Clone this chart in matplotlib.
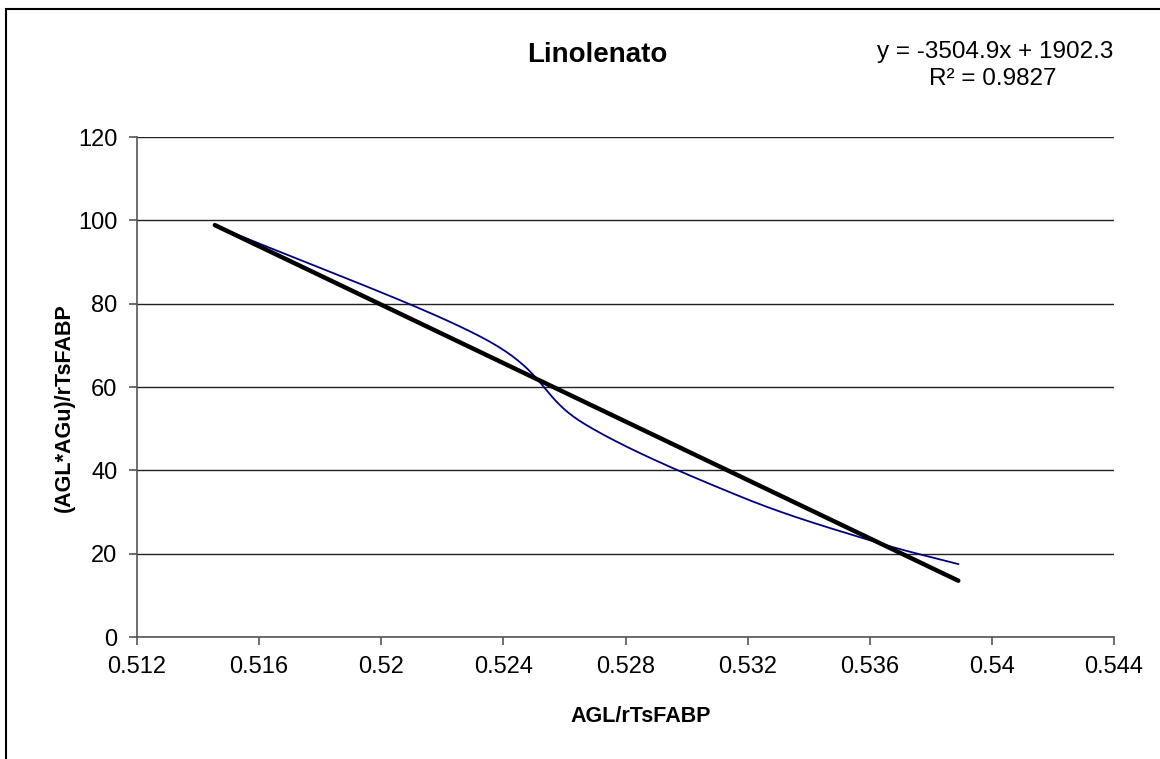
import numpy as np
import matplotlib
matplotlib.use("Agg")
from matplotlib import pyplot as plt
from matplotlib.patches import Rectangle

plt.rcParams['font.family'] = ['Liberation Sans', 'DejaVu Sans']

# data
x_data = [0.51455, 0.5234, 0.5266, 0.5318, 0.5361, 0.5389]
y_data = [98.8, 71.5, 51.4, 33.6, 23.0, 17.5]

slope, intercept = -3504.9, 1902.3
r2 = 0.9827
title = "Linolenato"
x_label = "AGL/rTsFABP"
y_label = "(AGL*AGu)/rTsFABP"
x_ticks = [0.512, 0.516, 0.52, 0.524, 0.528, 0.532, 0.536, 0.54, 0.544]
x_tick_labels = ["0.512", "0.516", "0.52", "0.524", "0.528", "0.532", "0.536", "0.54", "0.544"]
y_ticks = [0, 20, 40, 60, 80, 100, 120]


def smooth(xs, ys, n=40):
    # excel style smoothed line (catmull-rom through the points)
    xs = np.asarray(xs)
    ys = np.asarray(ys)
    px = np.concatenate([[2 * xs[0] - xs[1]], xs, [2 * xs[-1] - xs[-2]]])
    py = np.concatenate([[2 * ys[0] - ys[1]], ys, [2 * ys[-1] - ys[-2]]])
    out_x, out_y = [], []
    t = np.linspace(0, 1, n)
    for i in range(1, len(px) - 2):
        for p, out in ((px, out_x), (py, out_y)):
            p0, p1, p2, p3 = p[i - 1], p[i], p[i + 1], p[i + 2]
            c1 = p1 + (p2 - p0) / 6
            c2 = p2 - (p3 - p1) / 6
            out.extend((1 - t) ** 3 * p1 + 3 * (1 - t) ** 2 * t * c1
                       + 3 * (1 - t) * t ** 2 * c2 + t ** 3 * p2)
    return np.array(out_x), np.array(out_y)


W, H = 1160, 759
fig = plt.figure(figsize=(W / 100, H / 100), dpi=100)
ax = fig.add_axes([137 / W, 1 - 637 / H, (1114 - 137) / W, 500 / H])

sx, sy = smooth(x_data, y_data)
ax.plot(sx, sy, color='#000080', lw=1.3, zorder=3)

fit_x = np.array([x_data[0], x_data[-1]])
ax.plot(fit_x, slope * fit_x + intercept, color='black', lw=3.2,
        solid_capstyle='round', zorder=4)

ax.set_xlim(0.512, 0.544)
ax.set_ylim(0, 120)
ax.set_xticks(x_ticks)
ax.set_xticklabels(x_tick_labels)
ax.set_yticks(y_ticks)
ax.yaxis.grid(True, color='#222222', lw=1.0)
ax.set_axisbelow(True)
for s in ['top', 'right']:
    ax.spines[s].set_visible(False)
for s in ['left', 'bottom']:
    ax.spines[s].set_color('#555555')
    ax.spines[s].set_linewidth(1.2)
ax.tick_params(direction='out', length=6, width=1.2, color='#555555',
               labelsize=17)
ax.tick_params(axis='x', pad=8)
ax.tick_params(axis='y', pad=8)

# axis titles, placed in pixels like the reference
fig.text(570 / W, 1 - 722 / H, x_label, fontsize=15.5, fontweight='bold',
         ha='left', va='baseline')
fig.text(64 / W, 1 - 408 / H, y_label, fontsize=15.5, fontweight='bold',
         ha='center', va='center', rotation=90)

fig.text(597 / W, 1 - 62 / H, title, fontsize=20, fontweight='bold',
         ha='center', va='baseline')
fig.text(995 / W, 1 - 58 / H, "y = %.1fx + %.1f" % (slope, intercept),
         fontsize=17.5, ha='center', va='baseline')
fig.text(993 / W, 1 - 85 / H, "R² = %.4f" % r2,
         fontsize=17.5, ha='center', va='baseline')

fig.patches.append(Rectangle((6 / W, -0.1), 1.2, 1.1 - 9 / H,
                             transform=fig.transFigure, fill=False,
                             edgecolor='black', lw=1.5))

fig.savefig("out.png", dpi=100)
